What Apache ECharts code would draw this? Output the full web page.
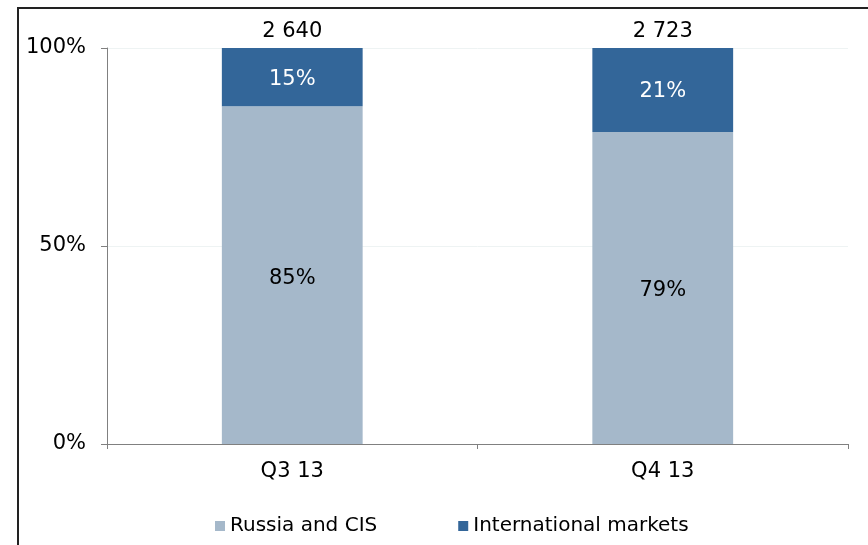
<!DOCTYPE html>
<html>
<head>
<meta charset="utf-8">
<script src="https://cdn.jsdelivr.net/npm/echarts@6/dist/echarts.min.js"></script>
<style>
  body { margin: 0; background: #fff; }
  #main { width: 868px; height: 545px; }
</style>
</head>
<body>
<div id="main"></div>
<script>
var categories = ['Q3 13', 'Q4 13'];
var russiaCis = [85.3, 78.8];
var international = [14.7, 21.2];
var totals = [2640, 2723];
var yTicks = [0, 50, 100];

var font = 'DejaVu Sans, Verdana, sans-serif';
var myChart = echarts.init(document.getElementById('main'));

function fmtTotal(v) {
  return String(v).replace(/\B(?=(\d{3})+(?!\d))/g, ' ');
}

var option = {
  animation: false,
  textStyle: { fontFamily: font },
  graphic: [{
    type: 'rect',
    shape: { x: 18, y: 8, width: 900, height: 600 },
    style: { fill: 'none', stroke: '#222', lineWidth: 2 },
    silent: true
  }],
  grid: { left: 107, right: 20, top: 48, bottom: 101 },
  legend: {
    data: ['Russia and CIS', 'International markets'],
    left: 210,
    top: 511,
    itemWidth: 10,
    itemHeight: 10,
    itemGap: 81,
    icon: 'rect',
    textStyle: { fontFamily: font, fontSize: 20, color: '#000' }
  },
  xAxis: {
    type: 'category',
    data: categories,
    axisLine: { lineStyle: { color: '#808080' } },
    axisTick: { show: true, length: 5, lineStyle: { color: '#808080' } },
    axisLabel: { color: '#000', fontSize: 21, fontFamily: font, margin: 17 }
  },
  yAxis: {
    type: 'value',
    min: yTicks[0],
    max: yTicks[yTicks.length - 1],
    interval: 50,
    axisLine: { show: true, lineStyle: { color: '#808080' } },
    axisTick: { show: true, length: 6, lineStyle: { color: '#808080' } },
    axisLabel: {
      color: '#000', fontSize: 21, fontFamily: font, margin: 21,
      padding: [4, 0, 0, 0], formatter: '{value}%'
    },
    splitLine: { lineStyle: { color: '#eef3f3' } }
  },
  series: [
    {
      name: 'Russia and CIS',
      type: 'bar',
      stack: 'total',
      barWidth: '38%',
      data: russiaCis,
      itemStyle: { color: '#a5b8ca' },
      label: {
        show: true, position: 'inside', color: '#000', fontSize: 21, fontFamily: font,
        offset: [0, 3],
        formatter: function (p) { return Math.round(p.value) + '%'; }
      }
    },
    {
      name: 'International markets',
      type: 'bar',
      stack: 'total',
      data: international,
      itemStyle: { color: '#336699' },
      label: {
        show: true, position: 'inside', color: '#fff', fontSize: 21, fontFamily: font,
        offset: [0, 2],
        formatter: function (p) { return Math.round(p.value) + '%'; }
      }
    },
    {
      name: 'Total',
      type: 'bar',
      stack: 'total',
      data: [0, 0],
      itemStyle: { color: 'transparent' },
      label: {
        show: true, position: 'top', color: '#000', fontSize: 21, fontFamily: font, distance: 6,
        formatter: function (p) { return fmtTotal(totals[p.dataIndex]); }
      }
    }
  ]
};
myChart.setOption(option);
</script>
</body>
</html>
